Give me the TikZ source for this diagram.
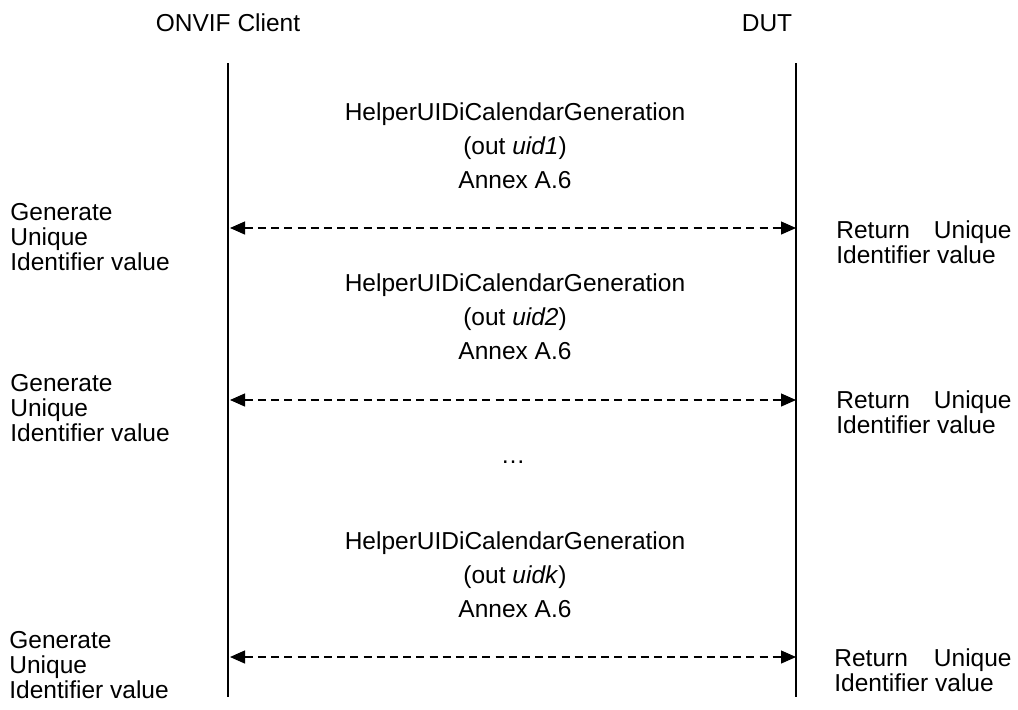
\documentclass[tikz,border=0pt]{standalone}
\usepackage{fontspec}
\setmainfont{Liberation Sans}
\usetikzlibrary{arrows.meta}
\begin{document}
\begin{tikzpicture}[x=0.5pt,y=-0.5pt,
  txt/.style={inner sep=0pt, font=\fontsize{12.25}{12.5}\selectfont},
  life/.style={line width=0.75pt},
  msg/.style={line width=0.6pt, dash pattern=on 4pt off 2.6pt, {Triangle[length=7.5pt,width=6.5pt]}-{Triangle[length=7.5pt,width=6.5pt]}}]
\useasboundingbox (0,0) rectangle (1018,709);
% headers
\node[txt,anchor=base] (hc) at (228,31) {ONVIF Client};
\node[txt,anchor=base] (hd) at (767,31) {DUT};
% lifelines
\coordinate (lt) at (228,63); \coordinate (lb) at (228,697);
\coordinate (rt) at (796,63); \coordinate (rb) at (796,697);
\draw[life] (lt) -- (lb);
\draw[life] (rt) -- (rb);
% message groups
\foreach \i/\a/\u/\ay in {1/120/uid1/228, 2/291/uid2/400, 3/549/uidk/657}{
  \node[txt,anchor=base] (h\i) at (515,\a) {HelperUIDiCalendarGeneration};
  \node[txt,anchor=base] (o\i) at (515,\a+34) {(out \textit{\u})};
  \node[txt,anchor=base] (x\i) at (515,\a+68) {Annex A.6};
  \coordinate (ma\i) at (230,\ay);
  \coordinate (mb\i) at (796,\ay);
  \draw[msg] (ma\i) -- (mb\i);
}
\node[txt,anchor=base] (dots) at (513,463) {\ldots};
% left labels
\foreach \i/\y/\x in {1/220/10, 2/391/10, 3/648/9}{
  \node[txt,anchor=base west] (g\i a) at (\x,\y) {Generate};
  \node[txt,anchor=base west] (g\i b) at (\x,\y+25) {Unique};
  \node[txt,anchor=base west] (g\i c) at (\x,\y+50) {Identifier value};
}
% right labels
\foreach \i/\y/\x in {1/238/836, 2/408/836, 3/666/834}{
  \node[txt,anchor=base west] (r\i a) at (\x,\y) {Return};
  \node[txt,anchor=base east] (r\i b) at (1012,\y) {Unique};
  \node[txt,anchor=base west] (r\i c) at (\x,\y+25) {Identifier value};
}
\end{tikzpicture}
\end{document}
